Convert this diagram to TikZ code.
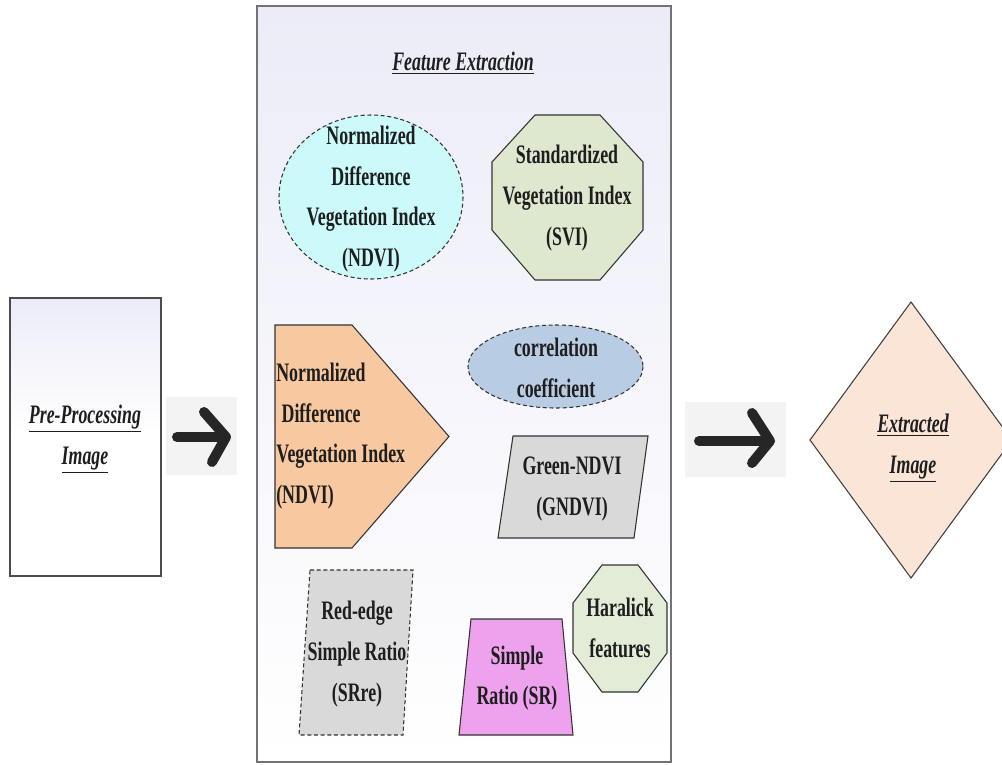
\documentclass[tikz,border=0pt]{standalone}
\usepackage{fontspec}
\setmainfont{Liberation Serif}
\newfontfamily\cond[FakeStretch=0.67]{Liberation Serif}
\usetikzlibrary{shapes.geometric}
\definecolor{ndvicyan}{RGB}{204,250,250}
\definecolor{svigreen}{RGB}{222,232,206}
\definecolor{peach}{RGB}{248,200,160}
\definecolor{corrblue}{RGB}{184,204,228}
\definecolor{lgray}{RGB}{217,217,217}
\definecolor{violet}{RGB}{238,162,238}
\definecolor{haragreen}{RGB}{226,236,214}
\definecolor{diafill}{RGB}{251,229,214}
\definecolor{arrowbg}{RGB}{243,243,243}
\definecolor{lav}{RGB}{236,236,248}
\definecolor{txt}{RGB}{30,30,30}
\begin{document}
\begin{tikzpicture}[x=0.75pt,y=-0.75pt,
  lbl/.style={font=\cond\bfseries\fontsize{20}{30.5}\selectfont, text=txt, align=center, inner sep=0pt},
  ttl/.style={font=\cond\bfseries\itshape\fontsize{20}{30.5}\selectfont, text=txt, align=center, inner sep=0pt},
  shp/.style={draw=black!80, line width=0.8pt},
  bigarrow/.style={line width=7.5pt, line cap=round, line join=round, draw=black!85},
]
\useasboundingbox (0,0) rectangle (1002,764);
\clip (0,0) rectangle (1002,764);

% left box
\path[draw=black!70, line width=1pt, top color=lav, bottom color=white, middle color=white]
  (10,298) rectangle (161,576);
\node[ttl] (pre) at (85,439) {\underline{Pre-Processing}\\\underline{Image}};

% arrow 1
\fill[arrowbg] (166,397) rectangle (237,475);
\draw[bigarrow] (177,437) -- (225,437);
\draw[bigarrow] (204,412) -- (226,437) -- (212,462);

% main box
\path[draw=black!55, line width=1.2pt, top color=lav, bottom color=white]
  (257,6) rectangle (671,762);
\node[ttl] (fe) at (463,63) {\underline{Feature Extraction}};

% NDVI ellipse
\draw[shp, densely dashed, fill=ndvicyan] (371,197) ellipse [x radius=92, y radius=82];
\node[lbl] (ndvi) at (371,199) {Normalized\\Difference\\Vegetation Index\\(NDVI)};

% SVI octagon
\draw[shp, fill=svigreen] (535,115) -- (600,115) -- (643,162) -- (643,230) -- (600,280)
  -- (535,280) -- (492,230) -- (492,162) -- cycle;
\node[lbl] (svi) at (567,198) {Standardized\\Vegetation Index\\(SVI)};

% pentagon
\draw[shp, fill=peach] (275,325) -- (352,325) -- (449,436.5) -- (352,548) -- (275,548) -- cycle;
\node[lbl, align=left, anchor=west] (ndvi2) at (276,436) {Normalized\\\hspace*{4pt}Difference\\Vegetation Index\\(NDVI)};

% correlation ellipse
\draw[shp, densely dashed, fill=corrblue] (555.5,366.5) ellipse [x radius=87.5, y radius=41.5];
\node[lbl] (corr) at (556,368) {correlation\\coefficient};

% Green-NDVI parallelogram
\draw[shp, fill=lgray] (513,436) -- (648,436) -- (634,538) -- (498,538) -- cycle;
\node[lbl] (gndvi) at (572,489) {Green-NDVI\\(GNDVI)};

% Red-edge parallelogram
\draw[shp, densely dashed, fill=lgray] (310,570) -- (413,570) -- (403,735) -- (299,735) -- cycle;
\node[lbl] (srre) at (357,654) {Red-edge\\Simple Ratio\\(SRre)};

% Simple ratio trapezoid
\draw[shp, fill=violet] (471,619) -- (562,619) -- (573,735) -- (459,735) -- cycle;
\node[lbl] (sr) at (517,678) {Simple\\Ratio (SR)};

% Haralick octagon
\draw[shp, fill=haragreen] (602,565) -- (638,565) -- (667,603) -- (667,653) -- (638,692)
  -- (602,692) -- (573,653) -- (573,603) -- cycle;
\node[lbl] (har) at (620,628) {Haralick\\features};

% arrow 2
\fill[arrowbg] (685,402) rectangle (786,477);
\draw[bigarrow] (699,441) -- (768,441);
\draw[bigarrow] (752,413) -- (770,441) -- (752,463);

% diamond
\draw[line width=0.8pt, draw=black!75, fill=diafill] (911,302) -- (1012,440) -- (911,578) -- (810,440) -- cycle;
\node[ttl] (ext) at (913,448) {\underline{Extracted}\\\underline{Image}};
\end{tikzpicture}
\end{document}
